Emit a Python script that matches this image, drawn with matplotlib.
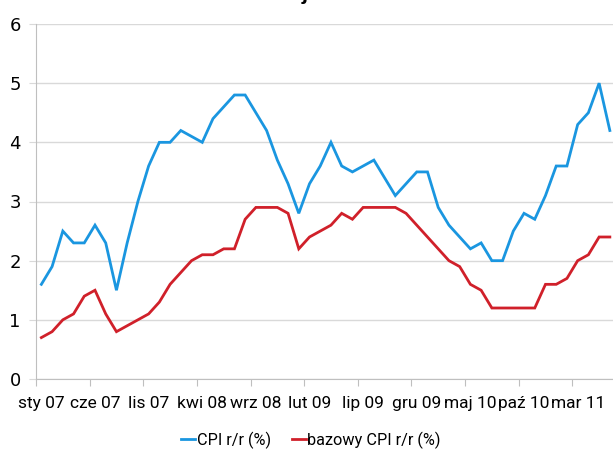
import matplotlib
matplotlib.use("Agg")
import matplotlib.pyplot as plt
from matplotlib.lines import Line2D
import numpy as np

# Monthly inflation in Poland, Jan 2007 - Jun 2011 (% y/y)
months = ["sty 07", "lut 07", "mar 07", "kwi 07", "maj 07", "cze 07", "lip 07", "sie 07", "wrz 07", "paź 07", "lis 07", "gru 07",
          "sty 08", "lut 08", "mar 08", "kwi 08", "maj 08", "cze 08", "lip 08", "sie 08", "wrz 08", "paź 08", "lis 08", "gru 08",
          "sty 09", "lut 09", "mar 09", "kwi 09", "maj 09", "cze 09", "lip 09", "sie 09", "wrz 09", "paź 09", "lis 09", "gru 09",
          "sty 10", "lut 10", "mar 10", "kwi 10", "maj 10", "cze 10", "lip 10", "sie 10", "wrz 10", "paź 10", "lis 10", "gru 10",
          "sty 11", "lut 11", "mar 11", "kwi 11", "maj 11", "cze 11"]

cpi = [1.6, 1.9, 2.5, 2.3, 2.3, 2.6, 2.3, 1.5, 2.3, 3.0, 3.6, 4.0,
       4.0, 4.2, 4.1, 4.0, 4.4, 4.6, 4.8, 4.8, 4.5, 4.2, 3.7, 3.3,
       2.8, 3.3, 3.6, 4.0, 3.6, 3.5, 3.6, 3.7, 3.4, 3.1, 3.3, 3.5,
       3.5, 2.9, 2.6, 2.4, 2.2, 2.3, 2.0, 2.0, 2.5, 2.8, 2.7, 3.1,
       3.6, 3.6, 4.3, 4.5, 5.0, 4.2]

core_cpi = [0.7, 0.8, 1.0, 1.1, 1.4, 1.5, 1.1, 0.8, 0.9, 1.0, 1.1, 1.3,
            1.6, 1.8, 2.0, 2.1, 2.1, 2.2, 2.2, 2.7, 2.9, 2.9, 2.9, 2.8,
            2.2, 2.4, 2.5, 2.6, 2.8, 2.7, 2.9, 2.9, 2.9, 2.9, 2.8, 2.6,
            2.4, 2.2, 2.0, 1.9, 1.6, 1.5, 1.2, 1.2, 1.2, 1.2, 1.2, 1.6,
            1.6, 1.7, 2.0, 2.1, 2.4, 2.4]

series_names = ["CPI r/r (%)", "bazowy CPI r/r (%)"]
title_text = "Inflacja w Polsce"

BLUE = "#1a96e0"
RED = "#d0202a"
GRID = "#d9d9d9"
AXIS = "#bfbfbf"
LABEL_FONT = ["Roboto", "DejaVu Sans"]

plt.rcParams["font.family"] = ["DejaVu Sans"]

W, H = 613, 449
fig = plt.figure(figsize=(W / 100, H / 100), dpi=100)

n = len(months)
px_per_month = 10.726
ax = fig.add_axes([36 / W, (H - 379) / H, n * px_per_month / W, 355 / H])

x = np.arange(n)
ax.plot(x, cpi, color=BLUE, lw=2.0, solid_joinstyle="miter")
ax.plot(x, core_cpi, color=RED, lw=2.0, solid_joinstyle="miter")

ax.set_xlim(-0.5, n - 0.5)
ax.set_ylim(0, 6)
ax.set_yticks(range(0, 7))
ax.yaxis.grid(True, color=GRID, lw=1)
ax.set_axisbelow(True)

# tick marks between categories, labels centred on every fifth category
step = 5
label_idx = list(range(0, n, step))
ax.set_xticks([i - 0.5 for i in label_idx])
ax.set_xticklabels([])
ax.set_xticks(label_idx, minor=True)
ax.set_xticklabels([months[i] for i in label_idx], minor=True, fontsize=12.5,
                   family=LABEL_FONT)
ax.tick_params(axis="x", which="major", length=5, color=AXIS)
ax.tick_params(axis="x", which="minor", length=0, pad=12, labelcolor="black")
ax.tick_params(axis="y", length=5, color=GRID, pad=6, labelsize=13, labelcolor="black")

for side in ("top", "right"):
    ax.spines[side].set_visible(False)
ax.spines["left"].set_color(AXIS)
ax.spines["bottom"].set_color(AXIS)

handles = [Line2D([], [], color=BLUE, lw=2), Line2D([], [], color=RED, lw=2)]
fig.legend(handles, series_names, loc="center", bbox_to_anchor=(311 / W, 1 - 440 / H),
           ncol=2, frameon=False, prop={"family": LABEL_FONT, "size": 11.7},
           handlelength=0.85, handletextpad=0.1, columnspacing=1.3)

# title sits above the canvas so only its lower edge shows
fig.text(330 / W, 1 - 0.5 / H, title_text, ha="center", va="baseline",
         fontsize=13, fontweight="bold")

fig.savefig("out.png", dpi=100)
